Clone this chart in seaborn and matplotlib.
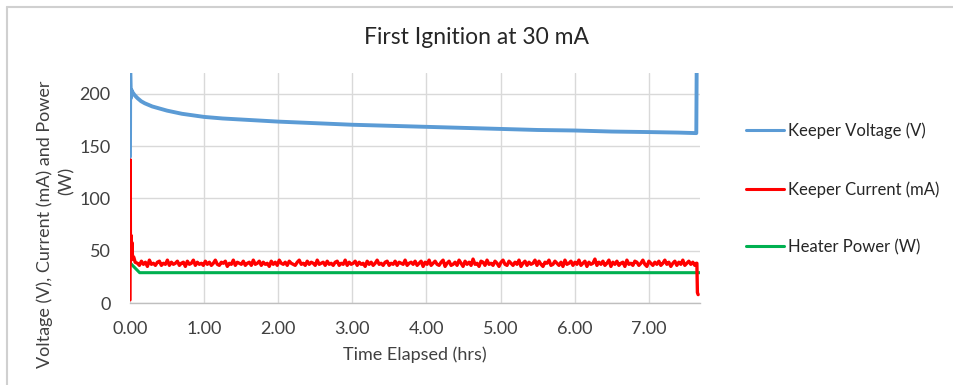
import numpy as np
import pandas as pd
import matplotlib
matplotlib.use("Agg")
import matplotlib.pyplot as plt
import seaborn as sns
from matplotlib.lines import Line2D

# ---------------- data ----------------
volt_time = [0.0, 0.003, 0.008, 0.012, 0.018, 0.03, 0.06, 0.1, 0.15, 0.2, 0.3, 0.4,
             0.5, 0.6, 0.7, 0.8, 0.9, 1.0, 1.25, 1.5, 1.75, 2.0, 2.5, 3.0, 3.5, 4.0,
             4.5, 5.0, 5.5, 6.0, 6.5, 7.0, 7.4, 7.64, 7.645]
volt_vals = [140, 220, 205, 196, 204, 202, 199, 196, 193, 191, 188, 186,
             184, 182.5, 181, 180, 179, 178, 176.5, 175.5, 174.5, 173.5, 172, 170.5,
             169.5, 168.5, 167.5, 166.5, 165.5, 165, 164, 163.5, 163, 162.5, 222]

curr_start_time = [0.0, 0.003, 0.006, 0.012, 0.018, 0.025, 0.035, 0.05, 0.07]
curr_start_vals = [3, 137, 40, 65, 45, 58, 42, 44, 39]
curr_noise = [38, 36, 40, 37, 39, 35, 41, 37, 38, 36, 39, 40, 36, 38, 37, 41, 36, 39, 37, 38,
              40, 36, 38, 39, 35, 40, 37, 38, 41, 36, 39, 37, 38, 36, 40, 37, 39, 36, 38, 41,
              37, 36, 39, 38, 40, 35, 38, 37, 41, 36, 39, 38, 37, 40, 36, 38, 39, 36, 41, 37,
              38, 40, 36, 39, 37, 38, 35, 40, 37, 39, 36, 41, 38, 37, 39, 36, 40, 38, 37, 36,
              39, 41, 37, 38, 36, 40, 37, 39, 38, 36, 41, 37, 38, 39, 36, 40, 37, 38, 36, 39,
              40, 36, 38, 37, 41, 36, 39, 37, 38, 40, 36, 39, 37, 38, 35, 40, 37, 39, 36, 38,
              41, 37, 38, 36, 39, 40, 36, 38, 37, 40, 36, 39, 38, 37, 41, 36, 38, 39, 37, 40,
              36, 38, 40, 35, 39, 37, 41, 36, 38, 40, 37, 36, 39, 41, 35, 38, 40, 36, 37, 39,
              36, 41, 38, 35, 40, 37, 39, 36, 42, 37, 38, 35, 40, 39, 36, 41, 37, 38, 36, 40,
              38, 35, 39, 41, 37, 36, 40, 38, 36, 39, 37, 41, 35, 38, 40, 36, 39, 37, 38, 41,
              36, 40, 37, 35, 39, 38, 41, 36, 37, 40, 38, 36, 39, 35, 41, 37, 38, 40, 36, 39,
              37, 41, 36, 38, 40, 35, 39, 37, 38, 42, 36, 39, 37, 40, 36, 38, 41, 35, 39, 37,
              40, 36, 38, 39, 35, 41, 37, 38, 36, 40, 39, 36, 38, 41, 37, 35, 40, 38, 36, 39,
              37, 40, 36, 38, 41, 37, 39, 35, 38, 40, 36, 39, 37, 41, 36, 38, 40, 37, 39, 36]
curr_end_time = [7.64, 7.648, 7.655, 7.665]
curr_end_vals = [38, 38, 10, 8]

heat_time = [0.0, 0.02, 0.13, 7.69]
heat_vals = [37, 37, 29, 29]

x_ticks = [0, 1, 2, 3, 4, 5, 6, 7]
y_ticks = [0, 50, 100, 150, 200]

title = "First Ignition at 30 mA"
xlabel = "Time Elapsed (hrs)"
ylabel_lines = ["Voltage (V), Current (mA) and Power", "(W)"]
labels = ["Keeper Voltage (V)", "Keeper Current (mA)", "Heater Power (W)"]
colors = ["#5B9BD5", "#FF0000", "#00B050"]

# sample times for the noisy current band (logger sampling grid)
noise_time = list(np.linspace(0.1, 7.62, len(curr_noise)))
curr_time = curr_start_time + noise_time + curr_end_time
curr_vals = curr_start_vals + curr_noise + curr_end_vals

# ---------------- plot ----------------
sns.set_theme(style="white")
plt.rcParams["font.family"] = ["Lato", "DejaVu Sans"]

fig = plt.figure(figsize=(9.54, 3.85), dpi=100)
ax = fig.add_axes([130 / 954, 1 - 303 / 385, 570 / 954, 230 / 385])

df_v = pd.DataFrame({"t": volt_time, "v": volt_vals})
df_c = pd.DataFrame({"t": curr_time, "v": curr_vals})
df_h = pd.DataFrame({"t": heat_time, "v": heat_vals})

sns.lineplot(data=df_h, x="t", y="v", ax=ax, color=colors[2], lw=2.2,
             estimator=None, sort=False, zorder=3)
sns.lineplot(data=df_c, x="t", y="v", ax=ax, color=colors[1], lw=2.4,
             estimator=None, sort=False, zorder=4)
sns.lineplot(data=df_v, x="t", y="v", ax=ax, color=colors[0], lw=2.8,
             estimator=None, sort=False, zorder=5)

ax.set_xlim(0, 7.69)
ax.set_ylim(0, 220)
ax.set_xticks(x_ticks)
ax.set_xticklabels([f"{t:.2f}" for t in x_ticks])
ax.set_yticks(y_ticks)
ax.grid(True, color="#D9D9D9", lw=1)
ax.set_axisbelow(True)
for s in ["top", "right", "left"]:
    ax.spines[s].set_visible(False)
ax.spines["bottom"].set_color("#BFBFBF")
ax.spines["bottom"].set_linewidth(1)
ax.tick_params(axis="both", length=0, labelsize=13, colors="#404040")
ax.tick_params(axis="x", pad=13)
ax.tick_params(axis="y", pad=14)
ax.set_xlabel(xlabel, fontsize=13, color="#404040", labelpad=7)
ax.set_ylabel("")

fig.text(45 / 954, 1 - 224 / 385, ylabel_lines[0], rotation=90, ha="center", va="center",
         fontsize=13, color="#404040")
fig.text(67 / 954, 1 - 181 / 385, ylabel_lines[1], rotation=90, ha="center", va="center",
         fontsize=13, color="#404040")

fig.text(0.5, 1 - 38 / 385, title, ha="center", va="center", fontsize=16.5, color="#262626")

handles = [Line2D([0], [0], color=c, lw=2.2) for c in colors]
fig.legend(handles, labels, loc="center left", bbox_to_anchor=(731 / 954, 1 - 189 / 385),
           frameon=False, fontsize=12, labelspacing=2.5, handlelength=2.3,
           handletextpad=0.2, labelcolor="#262626")

# chart border (left and top visible)
fig.add_artist(plt.Line2D([7 / 954, 7 / 954], [0, 1 - 7 / 385], transform=fig.transFigure,
                          color="#D0D0D0", lw=1.5))
fig.add_artist(plt.Line2D([7 / 954, 1], [1 - 7 / 385, 1 - 7 / 385], transform=fig.transFigure,
                          color="#D0D0D0", lw=1.5))

fig.savefig("out.png", dpi=100)
